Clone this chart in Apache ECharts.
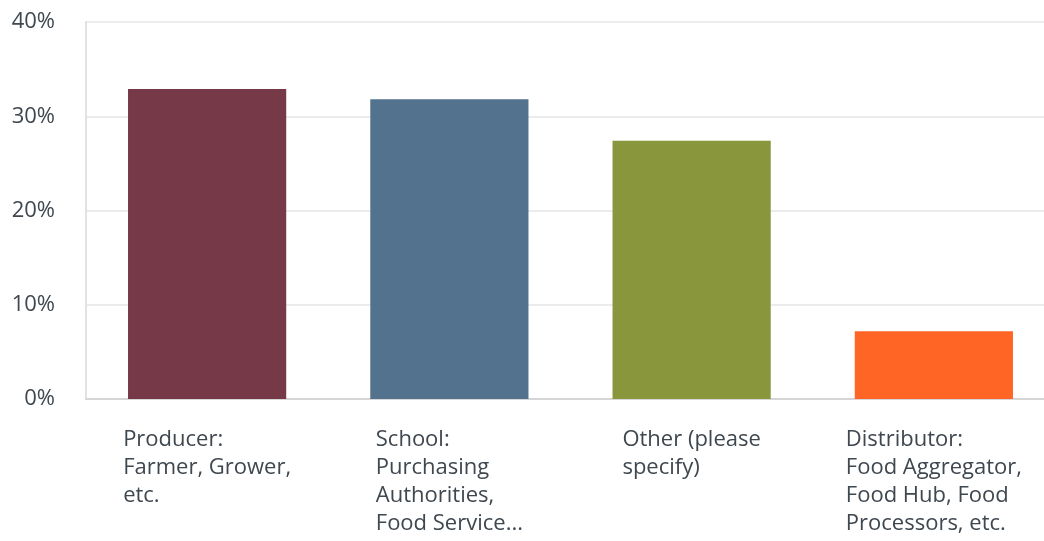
<!DOCTYPE html>
<html>
<head>
<meta charset="utf-8">
<script src="https://cdn.jsdelivr.net/npm/echarts@6/dist/echarts.min.js"></script>
<style>
html,body{margin:0;padding:0;background:#fff;}
#chart{width:1044px;height:541px;}
</style>
</head>
<body>
<div id="chart"></div>
<script>
const categories = [
  'Producer:\nFarmer, Grower,\netc.',
  'School:\nPurchasing\nAuthorities,\nFood Service...',
  'Other (please\nspecify)',
  'Distributor:\nFood Aggregator,\nFood Hub, Food\nProcessors, etc.'
];
const values = [32.9, 31.8, 27.4, 7.2];
const barColors = ['#763947', '#52728D', '#8A963B', '#FF6524'];
const yTicks = [0, 10, 20, 30, 40];

const chart = echarts.init(document.getElementById('chart'), null, {renderer: 'canvas'});
const FONT = '"Open Sans", sans-serif';
chart.setOption({
  animation: false,
  grid: {left: 86, top: 22, width: 969, height: 377, containLabel: false, outerBoundsMode: 'none'},
  xAxis: {
    type: 'category',
    data: categories,
    axisTick: {show: false},
    axisLine: {show: true, lineStyle: {color: '#d6d6d6', width: 2}},
    axisLabel: {
      interval: 0,
      margin: 27,
      align: 'center',
      color: '#3f474f',
      fontFamily: FONT,
      fontSize: 22,
      lineHeight: 28,
      formatter: function (v) {
        return v.split('\n').map(function (l) { return '{a|' + l + '}'; }).join('\n');
      },
      rich: {a: {align: 'left', fontFamily: FONT, fontSize: 22, lineHeight: 28, color: '#3f474f'}}
    }
  },
  yAxis: {
    type: 'value',
    min: yTicks[0],
    max: yTicks[yTicks.length - 1],
    interval: 10,
    axisLine: {show: true, lineStyle: {color: '#e2e2e2', width: 2}},
    axisTick: {show: false},
    splitLine: {show: true, lineStyle: {color: '#ececec', width: 2}},
    axisLabel: {
      margin: 31,
      color: '#3f474f',
      fontFamily: FONT,
      fontSize: 22,
      formatter: '{value}%'
    }
  },
  series: [{
    type: 'bar',
    barWidth: '65.3%',
    data: values.map(function (v, i) { return {value: v, itemStyle: {color: barColors[i]}}; })
  }]
});
</script>
</body>
</html>
